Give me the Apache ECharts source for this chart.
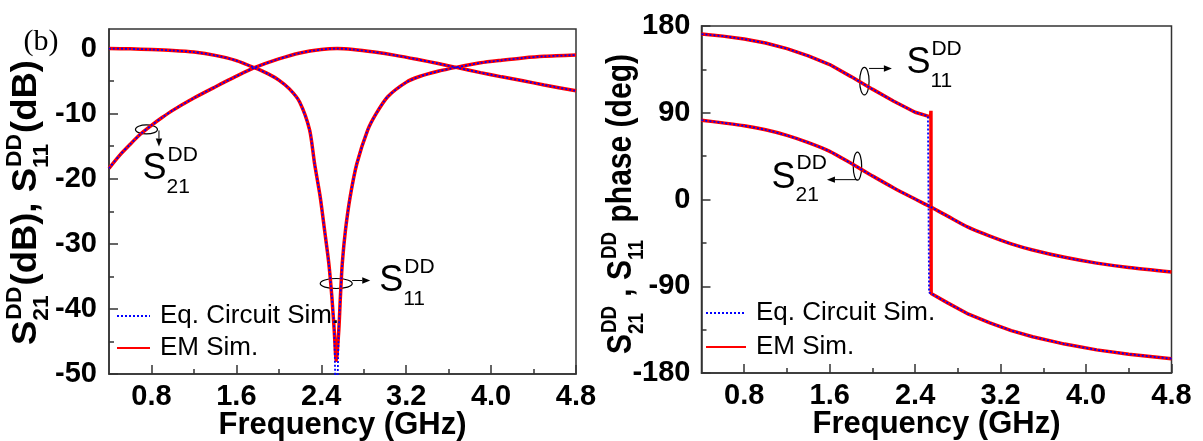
<!DOCTYPE html>
<html><head><meta charset="utf-8">
<script src="https://cdn.jsdelivr.net/npm/echarts@6/dist/echarts.min.js"></script>
<style>html,body{margin:0;padding:0;background:#fff}#c{width:1203px;height:441px}</style>
</head><body><div id="c"></div>
<script>
// ---------- tick labels ----------
const xMajorTicks = [0.8, 1.6, 2.4, 3.2, 4.0, 4.8];
const xMinorTicks = [1.2, 2.0, 2.8, 3.6, 4.4];
const dbMajorTicks = [-50, -40, -30, -20, -10, 0];
const dbMinorTicks = [-45, -35, -25, -15, -5];
const phMajorTicks = [-180, -90, 0, 90, 180];
const phMinorTicks = [-135, -45, 45, 135];
const legendNames = ['Eq. Circuit Sim.', 'EM Sim.'];
const xTitle = 'Frequency (GHz)';

// ---------- magnitude (dB) ----------
const fS21dB = [0.4,0.5,0.6,0.7,0.8,0.9,1.0,1.2,1.4,1.6,1.77,2.0,2.2,2.4,2.55,2.7,2.9,3.1,3.3,3.5,3.67,3.9,4.1,4.3,4.5,4.8];
const s21dB_EM = [-18.4,-16.4,-14.7,-13.1,-11.8,-10.6,-9.5,-7.6,-5.9,-4.25,-2.95,-1.6,-0.68,-0.15,0,-0.15,-0.55,-1.05,-1.65,-2.3,-2.9,-3.7,-4.35,-4.95,-5.6,-6.5];
const s21dB_EQ = [-18.4,-16.4,-14.7,-13.1,-11.8,-10.6,-9.5,-7.6,-5.9,-4.25,-2.95,-1.6,-0.68,-0.15,0,-0.15,-0.55,-1.05,-1.65,-2.3,-2.9,-3.7,-4.35,-4.95,-5.6,-6.5];

const fS11dB = [0.4,0.6,0.8,1.0,1.2,1.4,1.6,1.77,1.9,2.0,2.1,2.196,2.29,2.337,2.39,2.431,2.471,2.5,2.522,2.541,2.565,2.58,2.598,2.628,2.672,2.735,2.838,2.917,3.026,3.199,3.325,3.5,3.67,3.9,4.1,4.3,4.5,4.8];
const s11dB_EM = [0,-0.05,-0.15,-0.3,-0.55,-1.05,-1.85,-2.95,-3.9,-4.85,-6.2,-8.2,-12.5,-17.7,-22.8,-27.9,-33.0,-38.2,-43.3,-47.9,-43.3,-38.2,-33.0,-27.9,-22.8,-17.7,-12.5,-10.0,-7.4,-5.2,-4.3,-3.5,-2.9,-2.2,-1.8,-1.45,-1.2,-1.0];
const s11dB_EQ = [0,-0.05,-0.15,-0.3,-0.55,-1.05,-1.85,-2.95,-3.9,-4.85,-6.2,-8.2,-12.5,-17.7,-22.8,-27.9,-33.0,-38.2,-43.3,-58.0,-43.3,-38.2,-33.0,-27.9,-22.8,-17.7,-12.5,-10.0,-7.4,-5.2,-4.3,-3.5,-2.9,-2.2,-1.8,-1.45,-1.2,-1.0];

// ---------- phase (deg) ----------
const fS21ph = [0.4,0.6,0.8,1.0,1.2,1.4,1.6,1.8,2.0,2.2,2.4,2.545,2.7,2.9,3.1,3.3,3.5,3.8,4.1,4.4,4.8];
const s21ph_EM = [82.3,79.5,76.5,72.3,66.5,59,50,37.5,24.5,12,0.5,-7.7,-17,-29,-38,-46,-52.4,-60,-66,-70.5,-75.1];
const s21ph_EQ = [82.3,79.5,76.5,72.3,66.5,59,50,37.5,24.5,12,0.5,-7.7,-17,-29,-38,-46,-52.4,-60,-66,-70.5,-75.1];

const fS11ph_EM = [0.4,0.6,0.8,1.0,1.2,1.4,1.6,1.8,2.0,2.2,2.4,2.52,2.545,2.548,2.55,2.7,2.9,3.1,3.3,3.5,3.8,4.1,4.4,4.8];
const s11ph_EM = [171.6,169.5,166.5,162.3,156.5,149,140,127.5,114.5,102,90.5,86.5,85.5,92,-97.6,-107,-119,-128,-136,-142.4,-150,-156,-160.5,-165.1];
const fS11ph_EQ = [0.4,0.6,0.8,1.0,1.2,1.4,1.6,1.8,2.0,2.2,2.4,2.52,2.53,2.53,2.55,2.7,2.9,3.1,3.3,3.5,3.8,4.1,4.4,4.8];
const s11ph_EQ = [171.6,169.5,166.5,162.3,156.5,149,140,127.5,114.5,102,90.5,86.5,86,-96.5,-97.6,-107,-119,-128,-136,-142.4,-150,-156,-160.5,-165.1];

// ---------- build ----------
const FF = '"Liberation Sans", Arial, Helvetica, sans-serif';
const AX = '#333';
const zip = (f, v) => f.map((x, i) => [x, v[i]]);
const GRIDS = [
  {left:109, right:627, top:29, bottom:67},
  {left:701.5, right:31.5, top:26, bottom:68}
];
const gh = g => 441 - g.top - g.bottom;
const gw = g => 1203 - g.left - g.right;

function xAxes(gi) {
  return [
    { type:'value', gridIndex:gi, min:0.4, max:4.8, position:'bottom', offset:0,
      axisLine:{show:true, onZero:false, lineStyle:{color:AX, width:1.5}},
      axisTick:{show:true, inside:true, length:9, customValues:xMajorTicks, lineStyle:{color:AX, width:1.5}},
      axisLabel:{show:true, customValues:xMajorTicks, formatter:v => v.toFixed(1), color:'#000',
        fontFamily:FF, fontWeight:'bold', fontSize:29, margin:8},
      splitLine:{show:false} },
    { type:'value', gridIndex:gi, min:0.4, max:4.8, position:'top', offset:-gh(GRIDS[gi]),
      axisLine:{show:false, onZero:false},
      axisTick:{show:true, inside:false, length:5, customValues:xMinorTicks, lineStyle:{color:AX, width:1.5}},
      axisLabel:{show:false}, splitLine:{show:false} }
  ];
}
function yAxes(gi, min, max, major, minor, margin) {
  return [
    { type:'value', gridIndex:gi, min:min, max:max, position:'left', offset:0,
      axisLine:{show:true, onZero:false, lineStyle:{color:AX, width:1.5}},
      axisTick:{show:true, inside:true, length:9, customValues:major, lineStyle:{color:AX, width:1.5}},
      axisLabel:{show:true, customValues:major, color:'#000', fontFamily:FF, fontWeight:'bold', fontSize:29, margin:margin},
      splitLine:{show:false} },
    { type:'value', gridIndex:gi, min:min, max:max, position:'right', offset:-gw(GRIDS[gi]),
      axisLine:{show:false, onZero:false},
      axisTick:{show:true, inside:false, length:5, customValues:minor, lineStyle:{color:AX, width:1.5}},
      axisLabel:{show:false}, splitLine:{show:false} }
  ];
}
function emSeries(x, y, data, smooth) {
  return { name:'EM Sim.', type:'line', xAxisIndex:x, yAxisIndex:y, data:data, showSymbol:false, symbol:'none',
    smooth:smooth ? 0.25 : false,
    lineStyle:{color:'#ff0000', width:3.5}, itemStyle:{color:'#ff0000'}, clip:true, z:2 };
}
function eqSeries(x, y, data, smooth) {
  return { name:'Eq. Circuit Sim.', type:'line', xAxisIndex:x, yAxisIndex:y, data:data, showSymbol:false, symbol:'none',
    smooth:smooth ? 0.25 : false,
    lineStyle:{color:'#0000ff', width:1.8, type:[2,2]}, itemStyle:{color:'#0000ff'}, clip:true, z:3 };
}
function legendAt(left, top, w, gap) {
  return { left:left, top:top, orient:'vertical', itemWidth:w, itemHeight:14, itemGap:gap, padding:0,
    data:legendNames, selectedMode:false,
    itemStyle:{opacity:0, borderWidth:0},
    textStyle:{fontFamily:FF, fontSize:26, color:'#000', padding:[0,0,0,5]} };
}

const chart = echarts.init(document.getElementById('c'), null, {renderer:'canvas'});
chart.setOption({
  animation:false,
  backgroundColor:'#fff',
  grid:GRIDS.map(g => Object.assign({show:true, borderColor:AX, borderWidth:1.5, containLabel:false, outerBoundsMode:'none'}, g)),
  xAxis:[...xAxes(0), ...xAxes(1)],
  yAxis:[...yAxes(0, -50, 3, dbMajorTicks, dbMinorTicks, 12), ...yAxes(1, -180, 180, phMajorTicks, phMinorTicks, 11)],
  legend:[legendAt(116, 303, 33, 6), legendAt(705, 300, 40, 8)],
  series:[
    emSeries(0, 0, zip(fS21dB, s21dB_EM), true),
    emSeries(0, 0, zip(fS11dB, s11dB_EM), true),
    eqSeries(0, 0, zip(fS21dB, s21dB_EQ), true),
    eqSeries(0, 0, zip(fS11dB, s11dB_EQ), true),
    emSeries(2, 2, zip(fS21ph, s21ph_EM), true),
    emSeries(2, 2, zip(fS11ph_EM, s11ph_EM), false),
    eqSeries(2, 2, zip(fS21ph, s21ph_EQ), true),
    eqSeries(2, 2, zip(fS11ph_EQ, s11ph_EQ), false)
  ]
});

// ---------- annotations & axis titles ----------
const mctx = document.createElement('canvas').getContext('2d');
function tw(t, font) { mctx.font = font; return mctx.measureText(t).width; }
function txt(t, x, y, font) {
  return { type:'text', x:x, y:y, style:{text:t, font:font, fill:'#000', align:'left', verticalAlign:'middle'} };
}
function scriptRun(pieces, mainFont, scrFont, supDy, subDy) {
  let cx = 0; const out = [];
  pieces.forEach(p => {
    if (typeof p === 'string') { out.push(txt(p, cx, 0, mainFont)); cx += tw(p, mainFont); }
    else {
      out.push(txt(p.sup, cx + 1, supDy, scrFont));
      out.push(txt(p.sub, cx, subDy, scrFont));
      cx += Math.max(tw(p.sup, scrFont) + 1, tw(p.sub, scrFont)) + 1;
    }
  });
  return { children: out, width: cx };
}
function arrow(x1, y1, x2, y2) {
  const a = Math.atan2(y2 - y1, x2 - x1), L = 8, H = 3.2;
  const bx = x2 - L * Math.cos(a), by = y2 - L * Math.sin(a);
  return [
    { type:'line', shape:{x1:x1, y1:y1, x2:bx, y2:by}, style:{stroke:'#000', lineWidth:1} },
    { type:'polygon', shape:{points:[[x2, y2], [bx - H * Math.sin(a), by + H * Math.cos(a)], [bx + H * Math.sin(a), by - H * Math.cos(a)]]}, style:{fill:'#000'} }
  ];
}
function ellipse(cx, cy, rx, ry) {
  return { type:'ellipse', shape:{cx:cx, cy:cy, rx:rx, ry:ry}, style:{fill:'none', stroke:'#000', lineWidth:1.2} };
}
const AF = '36px ' + FF, SF = '21px ' + FF;
function annotation(gi, anchor, ell, arr, lab, sub) {
  const p = chart.convertToPixel({gridIndex:gi}, anchor);
  const r = scriptRun(['S', {sup:'DD', sub:sub}], AF, SF, -14, 18);
  const els = [ellipse(p[0], p[1], ell[0], ell[1])];
  els.push(...arrow(p[0] + arr[0], p[1] + arr[1], p[0] + arr[2], p[1] + arr[3]));
  els.push({ type:'group', x:p[0] + lab[0], y:p[1] + lab[1], children:r.children });
  return els;
}
const g = [];
g.push(...annotation(0, [0.753, -12.43], [11, 4.5], [12.5, 1, 12.5, 17], [-4, 40], '21'));
g.push(...annotation(0, [2.541, -36.1], [16, 5], [16, -3, 34, -3], [43, -2], '11'));
g.push(...annotation(1, [1.925, 122.8], [4.7, 13.7], [4.7, -12.7, 27.5, -12.7], [42, -18], '11'));
g.push(...annotation(1, [1.86, 34.6], [4.2, 14], [0, 13.5, -30.5, 13.5], [-86, 11.5], '21'));

function rotTitle(pieces, x, y, len, mainFont, scrFont, supDy, subDy) {
  const r = scriptRun(pieces, mainFont, scrFont, supDy, subDy);
  return { type:'group', x:x, y:y, rotation:Math.PI / 2, scaleX:len / r.width, children:r.children };
}
g.push(rotTitle(['S', {sup:'DD', sub:'21'}, '(dB), ', 'S', {sup:'DD', sub:'11'}, '(dB)'],
  26.5, 345, 285, 'bold 35px ' + FF, 'bold 22px ' + FF, -12, 15));
g.push(rotTitle(['S', {sup:'DD', sub:'21'}, ' , ', 'S', {sup:'DD', sub:'11'}, ' phase (deg)'],
  621, 354, 300, 'bold 35px ' + FF, 'bold 22px ' + FF, -11, 16));
g.push({ type:'text', x:41, y:42, style:{text:'(b)', font:'30px "Liberation Serif", "Times New Roman", serif', fill:'#000', align:'center', verticalAlign:'middle'} });

// x-axis titles, centred under each plot area
GRIDS.forEach(gr => {
  const cx = gr.left + gw(gr) / 2;
  const axisY = 441 - gr.bottom;
  g.push({ type:'text', x:cx, y:axisY + 51, style:{text:xTitle, font:'bold 31px ' + FF, fill:'#000', align:'center', verticalAlign:'middle'} });
});

chart.setOption({ graphic: g });
</script>
</body></html>
